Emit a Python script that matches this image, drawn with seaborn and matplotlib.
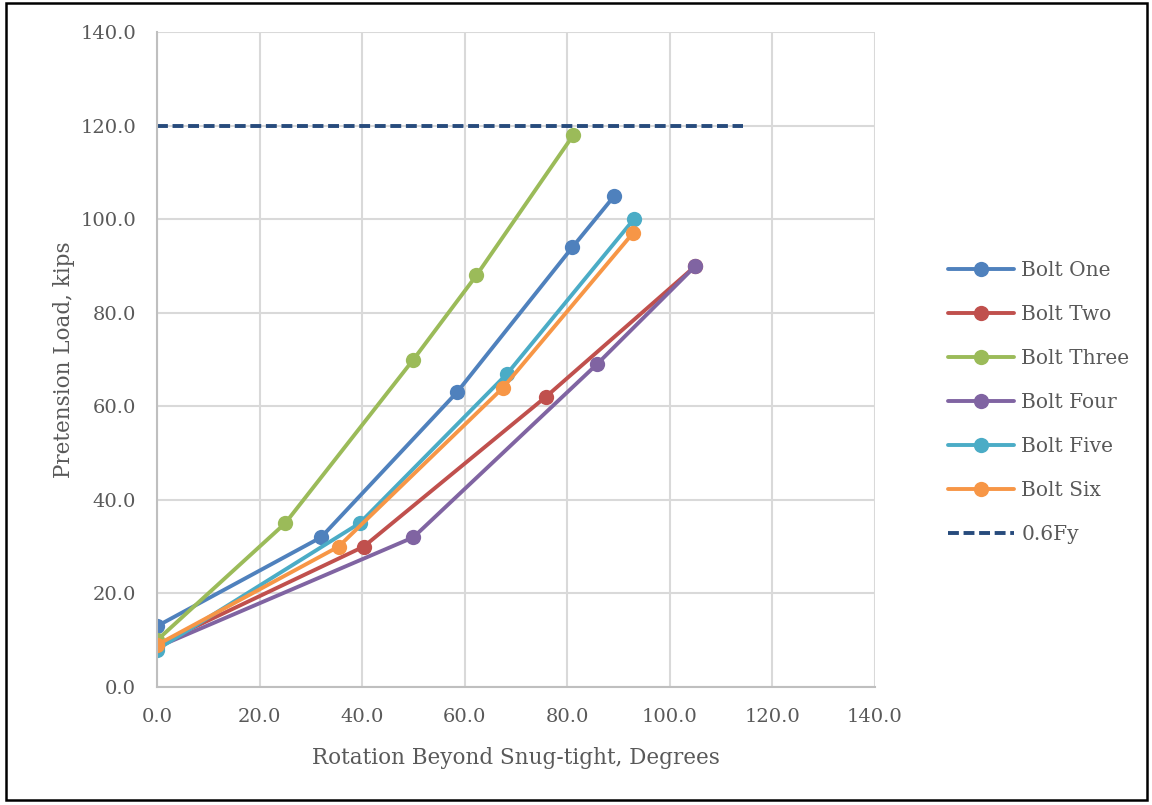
import pandas as pd
import seaborn as sns
import matplotlib.pyplot as plt
from matplotlib.patches import Rectangle
from matplotlib.lines import Line2D

# series (rotation in degrees, load in kips)
bolt_one_x = [0.0, 32.0, 58.5, 81.0, 89.2]
bolt_one_y = [13.0, 32.0, 63.0, 94.0, 105.0]
bolt_two_x = [0.0, 40.3, 75.8, 105.0]
bolt_two_y = [9.0, 30.0, 62.0, 90.0]
bolt_three_x = [0.0, 25.0, 50.0, 62.3, 81.2]
bolt_three_y = [10.0, 35.0, 70.0, 88.0, 118.0]
bolt_four_x = [0.0, 50.0, 85.8, 105.0]
bolt_four_y = [8.5, 32.0, 69.0, 90.0]
bolt_five_x = [0.0, 39.5, 68.3, 93.0]
bolt_five_y = [8.0, 35.0, 67.0, 100.0]
bolt_six_x = [0.0, 35.4, 67.5, 92.8]
bolt_six_y = [9.0, 30.0, 64.0, 97.0]
fy_x = [0.0, 114.3]
fy_y = [120.0, 120.0]

names = ['Bolt One', 'Bolt Two', 'Bolt Three', 'Bolt Four', 'Bolt Five', 'Bolt Six']
colors = ['#4F81BD', '#C0504D', '#9BBB59', '#8064A2', '#4BACC6', '#F79646']
fy_color = '#274B7C'
xs = [bolt_one_x, bolt_two_x, bolt_three_x, bolt_four_x, bolt_five_x, bolt_six_x]
ys = [bolt_one_y, bolt_two_y, bolt_three_y, bolt_four_y, bolt_five_y, bolt_six_y]

frames = []
for name, x, y in zip(names, xs, ys):
    frames.append(pd.DataFrame({'rotation': x, 'load': y, 'bolt': name}))
df = pd.concat(frames, ignore_index=True)

sns.set_style('white')
plt.rcParams['font.family'] = ['DejaVu Serif']
text_color = '#595959'
dash = (0, (2.8, 1.2))

fig = plt.figure(figsize=(11.52, 8.05), dpi=100)
ax = fig.add_axes([0.1363, 0.1466, 0.6232, 0.8136])

sns.lineplot(data=df, x='rotation', y='load', hue='bolt', hue_order=names,
             palette=colors, marker='o', markersize=11, markeredgewidth=0,
             linewidth=2.8, sort=False, estimator=None, ax=ax, legend=False)
sns.lineplot(x=fy_x, y=fy_y, color=fy_color, linewidth=2.8, ax=ax, linestyle=dash)

ax.set_xlim(0, 140)
ax.set_ylim(0, 140)
ticks = [0, 20, 40, 60, 80, 100, 120, 140]
ax.set_xticks(ticks)
ax.set_yticks(ticks)
ax.set_xticklabels([f'{t:.1f}' for t in ticks])
ax.set_yticklabels([f'{t:.1f}' for t in ticks])
ax.grid(True, color='#D9D9D9', linewidth=1.5)
ax.set_axisbelow(True)
for side in ['top', 'right']:
    ax.spines[side].set_visible(False)
for side in ['left', 'bottom']:
    ax.spines[side].set_color('#BFBFBF')
    ax.spines[side].set_linewidth(1.5)
ax.tick_params(axis='both', length=0, labelsize=14, colors=text_color)
ax.tick_params(axis='x', pad=15)
ax.tick_params(axis='y', pad=15)
ax.set_xlabel('Rotation Beyond Snug-tight, Degrees', fontsize=15.5, color=text_color, labelpad=15)
ax.set_ylabel('Pretension Load, kips', fontsize=15.5, color=text_color, labelpad=4)

handles = [Line2D([0], [0], color=c, marker='o', markersize=11, markeredgewidth=0, linewidth=2.8)
           for c in colors]
handles.append(Line2D([0], [0], color=fy_color, linewidth=2.8, linestyle=dash))
leg = fig.legend(handles, names + ['0.6Fy'], loc='center left',
                 bbox_to_anchor=(0.807, 0.5), frameon=False, fontsize=14.5,
                 handlelength=3.3, labelspacing=1.24, handletextpad=0.35)
for t in leg.get_texts():
    t.set_color(text_color)

fig.patches.append(Rectangle((0.005, 0.006), 0.991, 0.99, transform=fig.transFigure,
                             fill=False, edgecolor='black', linewidth=1.8))

fig.savefig('out.png', dpi=100)
